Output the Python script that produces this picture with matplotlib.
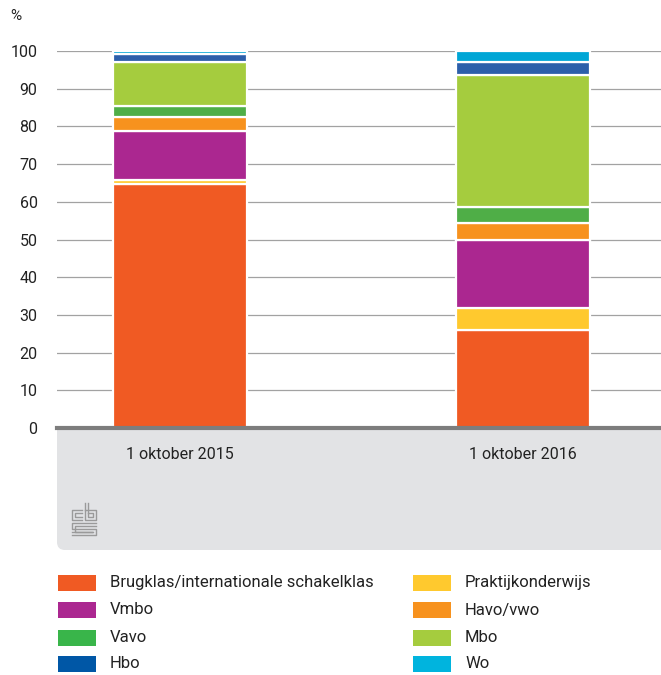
import matplotlib.pyplot as plt
from matplotlib.patches import FancyBboxPatch, Rectangle
import numpy as np

plt.rcParams['font.family'] = ['Roboto', 'DejaVu Sans']

# data
periods = ['1 oktober 2015', '1 oktober 2016']
categories = ['Brugklas/internationale schakelklas', 'Praktijkonderwijs', 'Vmbo',
              'Havo/vwo', 'Vavo', 'Mbo', 'Hbo', 'Wo']
brugklas = [64.6, 25.9]
praktijk = [1.2, 6.0]
vmbo = [13.1, 17.9]
havo_vwo = [3.5, 4.7]
vavo = [2.9, 4.2]
mbo = [11.9, 35.0]
hbo = [1.9, 3.5]
wo = [0.9, 2.8]
colors = ['#f05a23', '#ffc92e', '#ab2790', '#f7921e', '#4fae47', '#a5cc3e', '#2c5faa', '#00a6d6']
legend_colors = ['#f05a23', '#ffc92e', '#ab2790', '#f7921e', '#39b54a', '#a5cc3e', '#0057a6', '#00b4de']
yticks = [0, 10, 20, 30, 40, 50, 60, 70, 80, 90, 100]

W, H = 661, 675
fig = plt.figure(figsize=(W / 100, H / 100), dpi=100)
ax = fig.add_axes([57 / W, 1 - 428 / H, 604 / W, 377 / H])

x = np.arange(len(periods))
series = [brugklas, praktijk, vmbo, havo_vwo, vavo, mbo, hbo, wo]
bottom = np.zeros(len(periods))
for vals, c in zip(series, colors):
    ax.bar(x, vals, 0.391, bottom=bottom, color=c, edgecolor='white', linewidth=1.6, zorder=3)
    bottom += np.array(vals)

ax.set_xlim(-0.359, 1.404)
ax.set_ylim(0, 100)
ax.set_yticks(yticks)
ax.set_xticks(x)
ax.set_xticklabels(periods)
for s in ax.spines.values():
    s.set_visible(False)
ax.yaxis.grid(True, color='#a2a2a2', lw=0.9)
ax.set_axisbelow(True)
ax.tick_params(axis='y', length=0, pad=14, labelsize=11.5, labelcolor='#222222')
ax.tick_params(axis='x', length=0, pad=14, labelsize=11.5, labelcolor='#222222')
ax.axhline(0, color='#7d7d7d', lw=3, zorder=4, clip_on=False)

fig.text(10 / W, 1 - 16 / H, '%', fontsize=11, color='#222222', va='center')

# grey panel under the axis (top corners hidden behind the white axes)
panel = FancyBboxPatch((57 / W, 1 - 550 / H), 1.05 - 57 / W, 135 / H,
                       boxstyle='round,pad=0,rounding_size=0.012',
                       mutation_aspect=W / H, transform=fig.transFigure,
                       facecolor='#e2e3e5', edgecolor='none', zorder=-1)
fig.patches.append(panel)

# cbs logo, rough line drawing
def px_line(xs, ys):
    fig.add_artist(plt.Line2D([v / W for v in xs], [1 - v / H for v in ys],
                              color='#9a9a9a', lw=1.0, transform=fig.transFigure))

px_line([82, 72, 72, 82], [510, 510, 520, 520])
px_line([82, 75, 75, 82], [513, 513, 517, 517])
px_line([85, 85, 96, 96, 85], [503, 520, 520, 510, 510])
px_line([88, 88, 93, 93, 88], [503, 517, 517, 513, 513])
px_line([96, 72, 72, 96, 96, 72], [523, 523, 529, 529, 535, 535])
px_line([96, 75, 75, 93, 93, 72], [526, 526, 532, 532, 532, 532])

# legend, two columns
order = [[0, 2, 4, 6], [1, 3, 5, 7]]
col_x = [58, 413]
row_y = [583, 610, 638, 664]
for ci, idxs in enumerate(order):
    for ri, k in enumerate(idxs):
        fig.patches.append(Rectangle((col_x[ci] / W, 1 - (row_y[ri] + 8) / H), 38 / W, 16 / H,
                                     transform=fig.transFigure, facecolor=legend_colors[k],
                                     edgecolor='none'))
        fig.text((col_x[ci] + 52) / W, 1 - row_y[ri] / H, categories[k], fontsize=12,
                 color='#222222', va='center')

fig.savefig('out.png', dpi=100)
